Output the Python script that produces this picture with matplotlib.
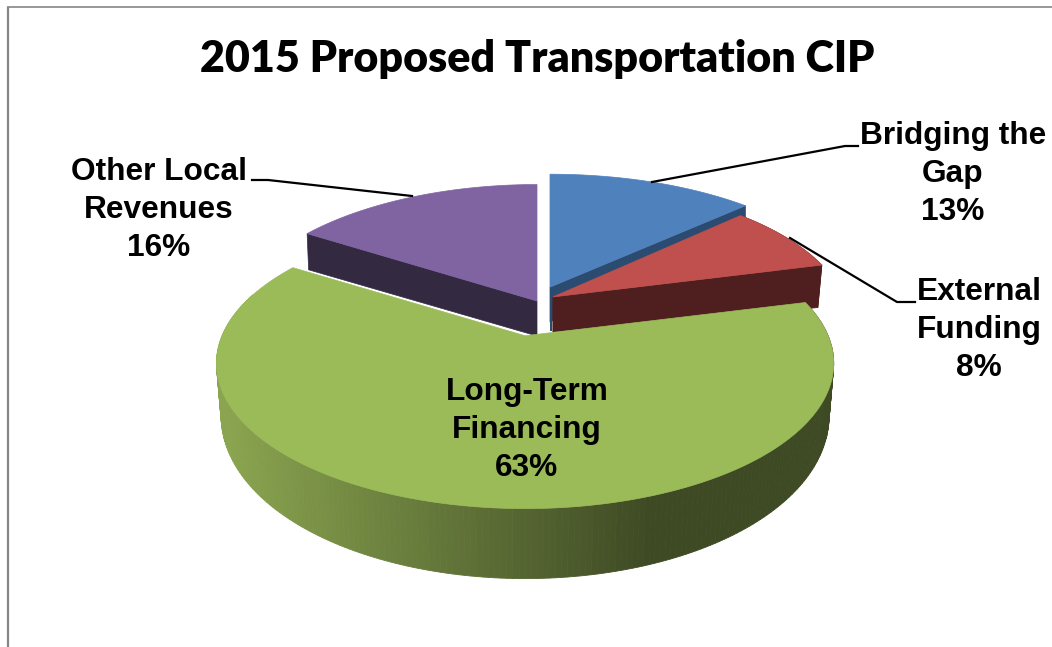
import numpy as np
import matplotlib
matplotlib.use("Agg")
import matplotlib.pyplot as plt
from matplotlib.colors import to_rgb

categories = ["Bridging the\nGap", "External\nFunding", "Long-Term\nFinancing", "Other Local\nRevenues"]
values = [13, 8, 63, 16]
title = "2015 Proposed Transportation CIP"

top_colors = ["#4f81bd", "#c0504d", "#9bbb59", "#8064a2"]
wall_colors = ["#2c4b70", "#4e1f1e", "#3f4b24", "#332a42"]
explode = [0.11, 0.06, 0.24, 0.0]
radial_x = [1.0, 0.96, 1.0, 0.99]
radial_y = [0.96, 0.96, 1.0, 0.99]
label_xy = [(953, 174), (979, 330), (527, 430), (159, 210)]

CX, CY, RX, RY, K = 537.0, 301.0, 303.0, 140.0, 0.19
BOTTOM_SHRINK = 0.985


def proj(a, b):
    s = 1.0 / (1.0 - K * b)
    return RX * a * s, RY * b * s


def rim_depth(b):
    return 48.0 + 22.0 * b


fig = plt.figure(figsize=(10.52, 6.47), dpi=100)
ax = fig.add_axes([0, 0, 1, 1])
ax.set_xlim(0, 1052)
ax.set_ylim(647, 0)
ax.axis("off")

edges = np.cumsum([0] + values) / sum(values) * 2 * np.pi
slices = []
for i, (t0, t1) in enumerate(zip(edges[:-1], edges[1:])):
    mid = (t0 + t1) / 2
    dx, dy = proj(explode[i] * np.sin(mid), -explode[i] * np.cos(mid))
    ax0, ay0 = CX + dx, CY + dy
    th = np.linspace(t0, t1, 240)
    a, b = np.sin(th), -np.cos(th)
    px, py = proj(a, b)
    slices.append((ax0, ay0, ax0 + px * radial_x[i], ay0 + py * radial_y[i], b, th))


def draw_cut_wall(ax0, ay0, x, y, b, color, z, inset=0.0):
    ax.fill([ax0, x, x - inset, ax0], [ay0, y, y + rim_depth(b), ay0 + 35],
            color=color, lw=0.5, zorder=z)


# purple, blue, red, green order back to front
x0, y0, xs, ys, bs, th = slices[3]
draw_cut_wall(x0, y0, xs[0], ys[0], bs[0], wall_colors[3], 2, inset=-1.5)
ax.fill(np.r_[x0, xs], np.r_[y0, ys], color=top_colors[3], lw=0.5, zorder=3)

x0, y0, xs, ys, bs, th = slices[0]
ax.fill([x0, x0 + 2, x0 + 2, x0], [y0, y0, y0 + 44, y0 + 44], color=wall_colors[0], lw=0, zorder=4)
draw_cut_wall(x0, y0, xs[-1], ys[-1], bs[-1] * 2.3, wall_colors[0], 4)
ax.fill(np.r_[x0, xs], np.r_[y0, ys], color=top_colors[0], lw=0.5, zorder=5)

x0, y0, xs, ys, bs, th = slices[1]
ins = np.linspace(0, 4, len(xs))
ax.fill(np.r_[xs, xs[::-1] - ins[::-1]], np.r_[ys, (ys + rim_depth(bs))[::-1]],
        color=wall_colors[1], lw=0.5, zorder=6)
draw_cut_wall(x0, y0, xs[-1], ys[-1], bs[-1], wall_colors[1], 6, inset=4)
ax.fill(np.r_[x0, xs], np.r_[y0, ys], color=top_colors[1], lw=0.5, zorder=7)

# green rim with a left-to-right shading
x0, y0, xs, ys, bs, th = slices[2]
light, dark = np.array(to_rgb("#8aa44f")), np.array(to_rgb("#3e4a24"))
xb = x0 + (xs - x0) * BOTTOM_SHRINK
for j in range(len(xs) - 1):
    if bs[j] < -0.3 and bs[j + 1] < -0.3:
        continue
    xm = (xs[j] + xs[j + 1]) / 2
    f = np.clip((xm - 225) / (650 - 225), 0, 1)
    col = light * (1 - f) + dark * f
    ax.fill([xs[j], xs[j + 1], xb[j + 1], xb[j]],
            [ys[j], ys[j + 1], ys[j + 1] + rim_depth(bs[j + 1]), ys[j] + rim_depth(bs[j])],
            color=col, lw=0.6, zorder=8)
ax.fill(np.r_[x0, xs], np.r_[y0, ys], color=top_colors[2], lw=0.5, zorder=9)

# leader lines
ax.plot([858, 845, 652], [146, 146, 182], color="black", lw=1.6, zorder=10)
ax.plot([915, 897, 790], [302, 302, 238], color="black", lw=1.6, zorder=10)
ax.plot([252, 268, 412], [180, 180, 196], color="black", lw=1.6, zorder=10)

for name, v, (lx, ly) in zip(categories, values, label_xy):
    ax.text(lx, ly, f"{name}\n{v}%", ha="center", va="center", family="Liberation Sans",
            weight="bold", fontsize=22.8, linespacing=1.34, color="black", zorder=11)

ax.text(537, 59, title, ha="center", va="center", family="Lato", weight="heavy",
        fontsize=31, color="black", zorder=11)

# chart frame
ax.plot([8, 8], [647, 7], color="#868686", lw=1.6, solid_capstyle="butt", zorder=1)
ax.plot([7, 1052], [6.5, 6.5], color="#868686", lw=1.2, solid_capstyle="butt", zorder=1)

fig.savefig("out.png", dpi=100)
